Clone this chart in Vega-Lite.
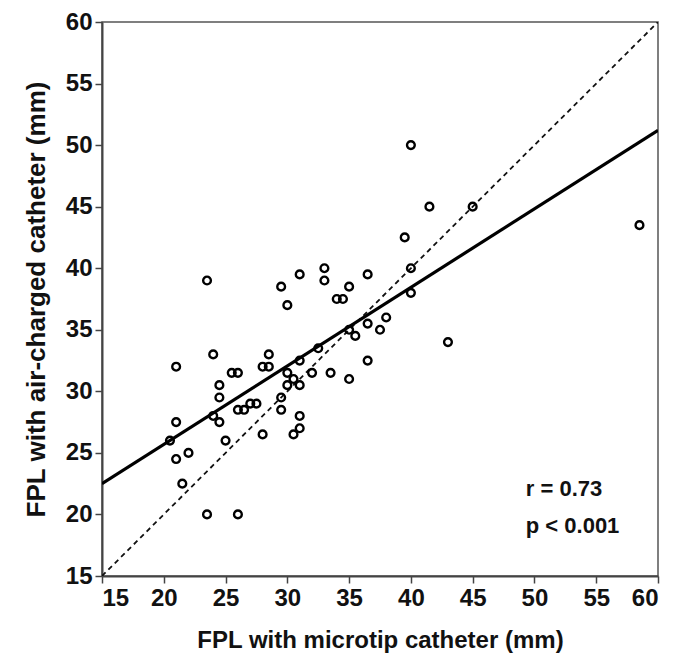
{
  "$schema": "https://vega.github.io/schema/vega-lite/v6.json",
  "autosize": {"type": "none"},
  "width": 556,
  "height": 554,
  "padding": {"left": 102, "top": 22, "right": 17, "bottom": 93},
  "background": "white",
  "config": {
    "view": {"stroke": "#555555", "strokeWidth": 1.5},
    "axis": {
      "grid": false,
      "domainColor": "#444444",
      "domainWidth": 2,
      "tickColor": "#444444",
      "tickWidth": 1.5,
      "tickSize": 7,
      "labelFont": "Liberation Sans",
      "labelFontWeight": "bold",
      "labelFontSize": 24,
      "labelColor": "#111111",
      "titleFont": "Liberation Sans",
      "titleFontWeight": "bold",
      "titleColor": "#111111"
    }
  },
  "datasets": {
    "pts": [
      {"micro": 20.5, "air": 26}, {"micro": 21, "air": 32}, {"micro": 21, "air": 27.5},
      {"micro": 21, "air": 24.5}, {"micro": 21.5, "air": 22.5}, {"micro": 22, "air": 25},
      {"micro": 23.5, "air": 39}, {"micro": 23.5, "air": 20}, {"micro": 24, "air": 33},
      {"micro": 24, "air": 28}, {"micro": 24.5, "air": 30.5}, {"micro": 24.5, "air": 29.5},
      {"micro": 24.5, "air": 27.5}, {"micro": 25, "air": 26}, {"micro": 25.5, "air": 31.5},
      {"micro": 26, "air": 31.5}, {"micro": 26, "air": 28.5}, {"micro": 26, "air": 20},
      {"micro": 26.5, "air": 28.5}, {"micro": 27, "air": 29}, {"micro": 27.5, "air": 29},
      {"micro": 28, "air": 32}, {"micro": 28, "air": 26.5}, {"micro": 28.5, "air": 33},
      {"micro": 28.5, "air": 32}, {"micro": 29.5, "air": 38.5}, {"micro": 29.5, "air": 29.5},
      {"micro": 29.5, "air": 28.5}, {"micro": 30, "air": 37}, {"micro": 30, "air": 31.5},
      {"micro": 30, "air": 30.5}, {"micro": 30.5, "air": 31}, {"micro": 30.5, "air": 26.5},
      {"micro": 31, "air": 39.5}, {"micro": 31, "air": 32.5}, {"micro": 31, "air": 30.5},
      {"micro": 31, "air": 28}, {"micro": 31, "air": 27}, {"micro": 32, "air": 31.5},
      {"micro": 32.5, "air": 33.5}, {"micro": 33, "air": 40}, {"micro": 33, "air": 39},
      {"micro": 33.5, "air": 31.5}, {"micro": 34, "air": 37.5}, {"micro": 34.5, "air": 37.5},
      {"micro": 35, "air": 38.5}, {"micro": 35, "air": 31}, {"micro": 35, "air": 35},
      {"micro": 35.5, "air": 34.5}, {"micro": 36.5, "air": 39.5}, {"micro": 36.5, "air": 35.5},
      {"micro": 36.5, "air": 32.5}, {"micro": 37.5, "air": 35}, {"micro": 38, "air": 36},
      {"micro": 39.5, "air": 42.5}, {"micro": 40, "air": 50}, {"micro": 40, "air": 40},
      {"micro": 40, "air": 38}, {"micro": 41.5, "air": 45}, {"micro": 43, "air": 34},
      {"micro": 45, "air": 45}, {"micro": 58.5, "air": 43.5}
    ],
    "lines": [
      {"line": "fit", "micro": 15, "air": 22.5},
      {"line": "fit", "micro": 60, "air": 51.2},
      {"line": "identity", "micro": 15, "air": 15},
      {"line": "identity", "micro": 60, "air": 60}
    ],
    "notes": [
      {"micro": 49.3, "air": 22.1, "text": "r = 0.73"},
      {"micro": 49.3, "air": 19.1, "text": "p < 0.001"}
    ]
  },
  "encoding": {
    "x": {
      "field": "micro", "type": "quantitative",
      "scale": {"domain": [15, 60], "nice": false, "zero": false},
      "axis": {"values": [15, 20, 25, 30, 35, 40, 45, 50, 55, 60], "title": "FPL with microtip catheter (mm)", "labelPadding": 3, "titlePadding": 18, "titleFontSize": 24}
    },
    "y": {
      "field": "air", "type": "quantitative",
      "scale": {"domain": [15, 60], "nice": false, "zero": false},
      "axis": {"values": [15, 20, 25, 30, 35, 40, 45, 50, 55, 60], "title": "FPL with air-charged catheter (mm)", "labelPadding": 3, "titlePadding": 16, "titleFontSize": 26}
    }
  },
  "layer": [
    {
      "data": {"name": "lines"},
      "transform": [{"filter": "datum.line === 'identity'"}],
      "mark": {"type": "line", "color": "#111111", "strokeWidth": 1.8, "strokeDash": [5, 4], "clip": true}
    },
    {
      "data": {"name": "lines"},
      "transform": [{"filter": "datum.line === 'fit'"}],
      "mark": {"type": "line", "color": "#000000", "strokeWidth": 3.2, "clip": true}
    },
    {
      "data": {"name": "pts"},
      "mark": {"type": "point", "shape": "circle", "filled": false, "stroke": "#000000", "strokeWidth": 2.4, "size": 60, "opacity": 1}
    },
    {
      "data": {"name": "notes"},
      "mark": {"type": "text", "align": "left", "baseline": "middle", "font": "Liberation Sans", "fontWeight": "bold", "fontSize": 22, "color": "#111111"},
      "encoding": {"text": {"field": "text"}}
    }
  ]
}
